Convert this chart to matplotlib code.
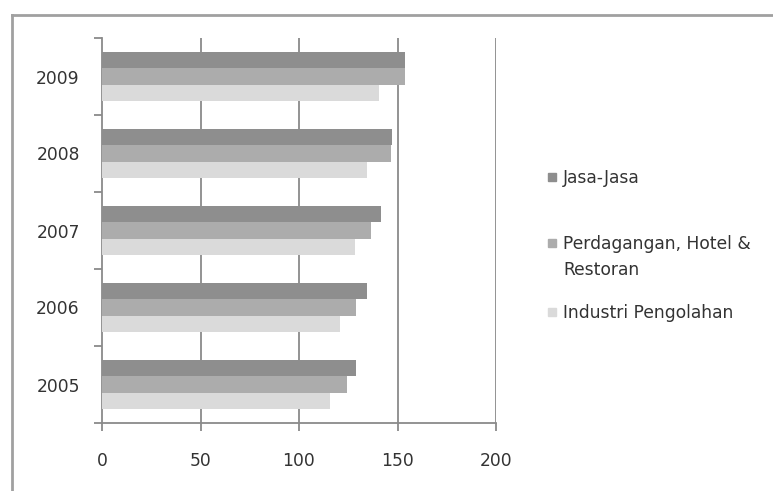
import numpy as np
import matplotlib
matplotlib.use("Agg")
import matplotlib.pyplot as plt
from matplotlib.lines import Line2D
from matplotlib.patches import Rectangle

# data
tahun = ['2005', '2006', '2007', '2008', '2009']
jasa = [128.7, 134.7, 141.4, 147.0, 153.8]
perdagangan = [124.4, 128.7, 136.3, 146.5, 154.0]
industri = [115.7, 120.8, 128.4, 134.3, 140.4]
nama_seri = ['Jasa-Jasa', 'Perdagangan, Hotel &\nRestoran', 'Industri Pengolahan']
warna = ['#8e8e8e', '#acacac', '#dadada']
x_ticks = [0, 50, 100, 150, 200]

plt.rcParams['font.family'] = ['DejaVu Sans']
fs = 12.3

fig = plt.figure(figsize=(7.73, 4.91), dpi=100)
ax = fig.add_axes([102 / 773, 1 - 423 / 491, 394 / 773, 385 / 491])

y = np.arange(len(tahun))
h = 0.208
seri = [jasa, perdagangan, industri]
for i, (vals, c) in enumerate(zip(seri, warna)):
    ax.barh(y + (1 - i) * h, vals, height=h, color=c, edgecolor='none', zorder=3)

ax.set_xlim(0, 200)
ax.set_ylim(-0.5, len(tahun) - 0.5)
ax.set_xticks(x_ticks)
ax.set_yticks(y)
ax.set_yticklabels(tahun)
ax.set_yticks(np.arange(-0.5, len(tahun)), minor=True)

grid_c = '#8a8a8a'
for v in x_ticks[1:]:
    ax.axvline(v, color=grid_c, lw=1.3, zorder=1)

for s in ['top', 'right']:
    ax.spines[s].set_visible(False)
for s in ['left', 'bottom']:
    ax.spines[s].set_color(grid_c)
    ax.spines[s].set_linewidth(1.3)

ax.tick_params(axis='y', which='major', length=0, pad=16, labelsize=fs, labelcolor='#333333')
ax.tick_params(axis='y', which='minor', length=6, width=1.3, color=grid_c)
ax.tick_params(axis='x', length=6, width=1.3, color=grid_c, pad=15, labelsize=fs, labelcolor='#333333')

# legend drawn by hand, the way the spreadsheet lays it out
leg_y = [177, 243, 312]
for nama, c, yy in zip(nama_seri, warna, leg_y):
    fy = 1 - yy / 491
    fig.patches.append(Rectangle((548 / 773, fy - 4 / 491), 8 / 773, 8 / 491,
                                 transform=fig.transFigure, color=c, zorder=5))
    fig.text(563 / 773, fy + 8 / 491, nama, ha='left', va='top', fontsize=fs,
             color='#333333', linespacing=1.55)

# frame around the chart area
fig.add_artist(Line2D([12 / 773, 1], [1 - 15 / 491, 1 - 15 / 491], color='#a0a0a0', lw=2))
fig.add_artist(Line2D([12 / 773, 12 / 773], [0, 1 - 15 / 491], color='#a0a0a0', lw=2))

fig.savefig('out.png', dpi=100)
